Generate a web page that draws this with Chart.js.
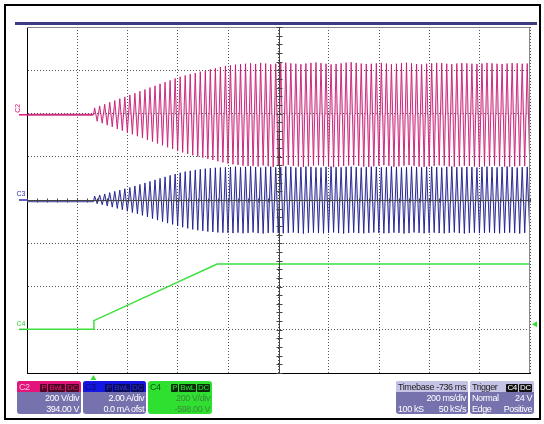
<!DOCTYPE html>
<html>
<head>
<meta charset="utf-8">
<script src="https://cdn.jsdelivr.net/npm/chart.js@4/dist/chart.umd.min.js"></script>
<style>
html, body { margin: 0; padding: 0; background: #fff; }
#wrap { position: relative; width: 544px; height: 424px; overflow: hidden; font-family: 'Liberation Sans', Arial, sans-serif; }
#frame { position: absolute; left: 4px; top: 4px; width: 533px; height: 412px; border: 2px solid #000; }
#bar { position: absolute; left: 15px; top: 22px; width: 522px; height: 3px; background: #3d3b80; }
canvas { position: absolute; left: 0; top: 0; }
.box { position: absolute; top: 381px; height: 33px; border-radius: 3px; background: #7672ad; color: #fff; font-size: 9px; line-height: 10px; letter-spacing: -0.4px; white-space: nowrap; overflow: hidden; }
.hd { height: 11px; display: flex; align-items: center; justify-content: space-between; padding: 0 2px; }
.ln { display: flex; justify-content: space-between; padding: 0 2px; height: 10px; margin-top: 1px; }
.bd { display: inline-block; background: #111; padding: 0 1px; margin-left: 1px; height: 8px; line-height: 8px; font-size: 8px; letter-spacing: -0.3px; border-radius: 1px; }
</style>
</head>
<body>
<div id="wrap">
  <div id="frame"></div>
  <div id="bar"></div>
  <canvas id="scope" width="544" height="424"></canvas>

  <div class="box" style="left:17px;width:64px;">
    <div class="hd" style="background:#e3157c;color:#f6c0dc;"><span>C2</span><span><span class="bd" style="background:#4a0820;color:#e3157c">P</span><span class="bd" style="background:#4a0820;color:#e3157c">BwL</span><span class="bd" style="background:#4a0820;color:#e3157c">DC</span></span></div>
    <div class="ln"><span></span><span>200 V/div</span></div>
    <div class="ln"><span></span><span>394.00 V</span></div>
  </div>
  <div class="box" style="left:83px;width:63px;">
    <div class="hd" style="background:#1616e2;color:#0a0a70;"><span>C3</span><span><span class="bd" style="background:#0a0a60;color:#3434c8">P</span><span class="bd" style="background:#0a0a60;color:#3434c8">BwL</span><span class="bd" style="background:#0a0a60;color:#3434c8">DC</span></span></div>
    <div class="ln"><span></span><span>2.00 A/div</span></div>
    <div class="ln"><span></span><span>0.0 mA ofst</span></div>
  </div>
  <div class="box" style="left:148px;width:64px;background:#30e030;color:#3a8a3a;">
    <div class="hd" style="color:#0a5a0a;"><span>C4</span><span><span class="bd" style="background:#0b2b0b;color:#30e030">P</span><span class="bd" style="background:#0b2b0b;color:#30e030">BwL</span><span class="bd" style="background:#0b2b0b;color:#30e030">DC</span></span></div>
    <div class="ln"><span></span><span>200 V/div</span></div>
    <div class="ln"><span></span><span>-598.00 V</span></div>
  </div>

  <div class="box" style="left:396px;width:72px;">
    <div class="hd" style="background:#c5c3e6;color:#222;"><span>Timebase</span><span>-736 ms</span></div>
    <div class="ln"><span></span><span>200 ms/div</span></div>
    <div class="ln"><span>100 kS</span><span>50 kS/s</span></div>
  </div>
  <div class="box" style="left:470px;width:64px;">
    <div class="hd" style="background:#c5c3e6;color:#222;"><span>Trigger</span><span><span class="bd" style="color:#fff">C4</span><span class="bd" style="color:#fff">DC</span></span></div>
    <div class="ln"><span>Normal</span><span>24 V</span></div>
    <div class="ln"><span>Edge</span><span>Positive</span></div>
  </div>
</div>

<script>
// time grid (ms), 200 ms/div, trigger at 0, timebase -736 ms
const xDivs = [-264, -64, 136, 336, 536, 736, 936, 1136, 1336, 1536, 1736];
const period = 20; // 50 Hz mains

// channel settings (unit per div, offset)
const c2Scale = 200, c2Offset = 394;   // V
const c3Scale = 2.0, c3Offset = 0;     // A
const c4Scale = 200, c4Offset = -598;  // V
const trigLevel = 24;                  // V on C4

// C2 voltage, peak and trough per cycle after trigger (V)
const c2Base = 0;
const c2Peaks = [32,41,49,58,66,75,83,92,100,109,117,126,134,143,151,159,168,176,182,188,193,199,204,210,215,221,226,229,232,234,236,
  238,235,240,237,233,236,239,241,238,236,234,237,240,242,239,236,233,235,238,241,243,240,237,235,236,238,240,237,234,236,
  239,241,238,235,233,236,238,240,239,236,234,237,239,238,236,235,237,240,238,236,235,237,239,238,236,237];
const c2Troughs = [-30,-39,-48,-56,-65,-73,-82,-90,-99,-107,-116,-124,-133,-141,-150,-158,-166,-174,-181,-187,-193,-198,-204,-209,-215,-220,-225,-229,-232,-235,-237,
  -236,-239,-234,-238,-241,-237,-235,-232,-236,-239,-241,-238,-235,-233,-236,-240,-242,-239,-236,-234,-233,-236,-239,-241,-238,-235,-233,-236,-240,-238,
  -235,-233,-236,-239,-241,-238,-236,-234,-235,-238,-240,-237,-235,-236,-239,-241,-238,-236,-235,-237,-239,-240,-238,-236,-237,-238];

// C3 current (A)
const c3Base = -0.08;
const c3Peaks = [0.18,0.23,0.28,0.34,0.40,0.46,0.52,0.58,0.65,0.72,0.79,0.86,0.93,1.00,1.07,1.14,1.20,1.26,1.31,1.35,1.39,1.42,1.45,1.47,1.49,1.50,1.51,
  1.52,1.54,1.51,1.53,1.55,1.52,1.50,1.53,1.54,1.51,1.52,1.55,1.53,1.50,1.52,1.54,1.53,1.51,1.50,1.53,
  1.55,1.52,1.51,1.53,1.54,1.52,1.50,1.52,1.54,1.53,1.51,1.52,1.55,1.53,1.50,1.52,1.54,1.52,1.51,1.53,
  1.54,1.52,1.50,1.53,1.55,1.52,1.51,1.53,1.52,1.50,1.53,1.54,1.52,1.51,1.53,1.55,1.52,1.50,1.52,1.53];
const c3Troughs = [-0.17,-0.22,-0.28,-0.33,-0.39,-0.45,-0.52,-0.58,-0.64,-0.71,-0.78,-0.86,-0.93,-1.00,-1.07,-1.13,-1.20,-1.26,-1.31,-1.36,-1.40,-1.43,-1.46,-1.48,-1.50,-1.51,-1.52,
  -1.53,-1.51,-1.54,-1.52,-1.50,-1.53,-1.55,-1.52,-1.51,-1.53,-1.54,-1.52,-1.50,-1.53,-1.55,-1.52,-1.51,-1.53,-1.54,-1.52,
  -1.50,-1.53,-1.55,-1.52,-1.51,-1.53,-1.54,-1.52,-1.50,-1.52,-1.54,-1.53,-1.51,-1.52,-1.55,-1.53,-1.50,-1.52,-1.54,-1.52,
  -1.51,-1.53,-1.54,-1.52,-1.50,-1.53,-1.55,-1.52,-1.51,-1.53,-1.52,-1.50,-1.53,-1.54,-1.52,-1.51,-1.53,-1.55,-1.52,-1.50];

// C4 DC bus voltage (V)
const c4Times = [-264, 0, 2, 492, 1736];
const c4Volts = [0, 0, 40, 302, 302];

// convert a value to screen divisions
function toDiv(v, scale, offset) {
    return (v + offset) / scale;
}

// flat before trigger, then one peak and one trough per mains cycle
function wavePoints(base, peaks, troughs, scale, offset) {
    const pts = [{x: xDivs[0], y: toDiv(base, scale, offset)}, {x: 0, y: toDiv(base, scale, offset)}];
    for (let k = 0; k < peaks.length; k++) {
        pts.push({x: k * period + period / 4, y: toDiv(peaks[k], scale, offset)});
        pts.push({x: k * period + 3 * period / 4, y: toDiv(troughs[k], scale, offset)});
    }
    return pts;
}

const c4Points = c4Times.map((t, i) => ({x: t, y: toDiv(c4Volts[i], c4Scale, c4Offset)}));

// crosshair, frame, level markers and channel tags
const scopeDeco = {
    id: 'scopeDeco',
    afterDraw(chart) {
        const ctx = chart.ctx, ca = chart.chartArea;
        const xs = chart.scales.x, ys = chart.scales.y;
        ctx.save();
        // top and right frame
        ctx.strokeStyle = '#8a8a8a';
        ctx.lineWidth = 1;
        ctx.beginPath();
        ctx.moveTo(ca.left, ca.top + 0.5); ctx.lineTo(ca.right - 0.5, ca.top + 0.5); ctx.lineTo(ca.right - 0.5, ca.bottom);
        ctx.stroke();

        // center crosshair with minor ticks
        const cx = Math.round(xs.getPixelForValue(xDivs[5])) + 0.5;
        const cy = Math.round(ys.getPixelForValue(0)) + 0.5;
        ctx.strokeStyle = '#444';
        ctx.beginPath();
        ctx.moveTo(cx, ca.top); ctx.lineTo(cx, ca.bottom);
        ctx.moveTo(ca.left, cy); ctx.lineTo(ca.right, cy);
        for (let i = 0; i <= 50; i++) {
            const px = Math.round(xs.getPixelForValue(xDivs[0] + i * 40)) + 0.5;
            ctx.moveTo(px, cy - 2); ctx.lineTo(px, cy + 2);
        }
        for (let i = 0; i <= 40; i++) {
            const py = Math.round(ys.getPixelForValue(-4 + i * 0.2)) + 0.5;
            ctx.moveTo(cx - 3, py); ctx.lineTo(cx + 3, py);
        }
        ctx.stroke();

        // trigger markers
        ctx.fillStyle = '#33dd33';
        const tx = xs.getPixelForValue(0);
        ctx.beginPath();
        ctx.moveTo(tx, ca.bottom + 2); ctx.lineTo(tx - 3, ca.bottom + 7); ctx.lineTo(tx + 3, ca.bottom + 7);
        ctx.fill();
        const ty = ys.getPixelForValue(toDiv(trigLevel, c4Scale, c4Offset));
        ctx.beginPath();
        ctx.moveTo(ca.right + 2, ty); ctx.lineTo(ca.right + 7, ty - 3); ctx.lineTo(ca.right + 7, ty + 3);
        ctx.fill();

        // channel ground tags
        const tags = [
            {name: 'C2', color: '#e0157a', y: ys.getPixelForValue(toDiv(c2Base, c2Scale, c2Offset)), rot: true},
            {name: 'C3', color: '#2a2aa8', y: ys.getPixelForValue(toDiv(0, c3Scale, c3Offset))},
            {name: 'C4', color: '#33cc33', y: ys.getPixelForValue(toDiv(0, c4Scale, c4Offset))}
        ];
        ctx.font = '7px "Liberation Sans", Arial, sans-serif';
        tags.forEach(t => {
            ctx.strokeStyle = t.color;
            ctx.fillStyle = t.color;
            ctx.lineWidth = 1.5;
            ctx.beginPath();
            ctx.moveTo(ca.left - 8, t.y); ctx.lineTo(ca.left, t.y);
            ctx.stroke();
            if (t.rot) {
                ctx.save();
                ctx.translate(ca.left - 5, t.y - 2);
                ctx.rotate(-Math.PI / 2);
                ctx.textAlign = 'left';
                ctx.textBaseline = 'bottom';
                ctx.fillText(t.name, 0, 0);
                ctx.restore();
            } else {
                ctx.textAlign = 'center';
                ctx.textBaseline = 'bottom';
                ctx.fillText(t.name, ca.left - 6, t.y - 2);
            }
        });
        ctx.restore();
    }
};

const gridStyle = {color: '#555', lineWidth: 1, drawTicks: false};

new Chart(document.getElementById('scope'), {
    type: 'line',
    data: {
        datasets: [
            {
                label: 'C2',
                data: wavePoints(c2Base, c2Peaks, c2Troughs, c2Scale, c2Offset),
                borderColor: 'rgba(200,25,115,0.9)',
                backgroundColor: 'rgba(225,150,190,0.45)',
                fill: {value: toDiv(c2Base, c2Scale, c2Offset)},
                borderWidth: 1,
                segment: {borderWidth: c => c.p1DataIndex <= 1 ? 2 : 1},
                pointRadius: 0
            },
            {
                label: 'C3',
                data: wavePoints(c3Base, c3Peaks, c3Troughs, c3Scale, c3Offset),
                borderColor: 'rgba(25,25,140,0.9)',
                backgroundColor: 'rgba(160,160,210,0.45)',
                fill: {value: toDiv(c3Base, c3Scale, c3Offset)},
                borderWidth: 1,
                pointRadius: 0
            },
            {
                label: 'C4',
                data: c4Points,
                borderColor: '#3ee03e',
                borderWidth: 1.5,
                pointRadius: 0,
                fill: false
            }
        ]
    },
    options: {
        responsive: false,
        animation: false,
        devicePixelRatio: 1,
        layout: {padding: {left: 27, top: 27, right: 14, bottom: 51}},
        plugins: {legend: {display: false}, tooltip: {enabled: false}},
        scales: {
            x: {
                type: 'linear',
                min: xDivs[0],
                max: xDivs[xDivs.length - 1],
                z: 1,
                afterBuildTicks: s => { s.ticks = xDivs.map(v => ({value: v})); },
                ticks: {display: false},
                grid: gridStyle,
                border: {color: '#000', width: 1, dash: [1, 2]}
            },
            y: {
                type: 'linear',
                min: -4,
                max: 4,
                z: 1,
                ticks: {display: false, stepSize: 1},
                grid: gridStyle,
                border: {color: '#000', width: 1, dash: [1, 2]}
            }
        }
    },
    plugins: [scopeDeco]
});
</script>
</body>
</html>
